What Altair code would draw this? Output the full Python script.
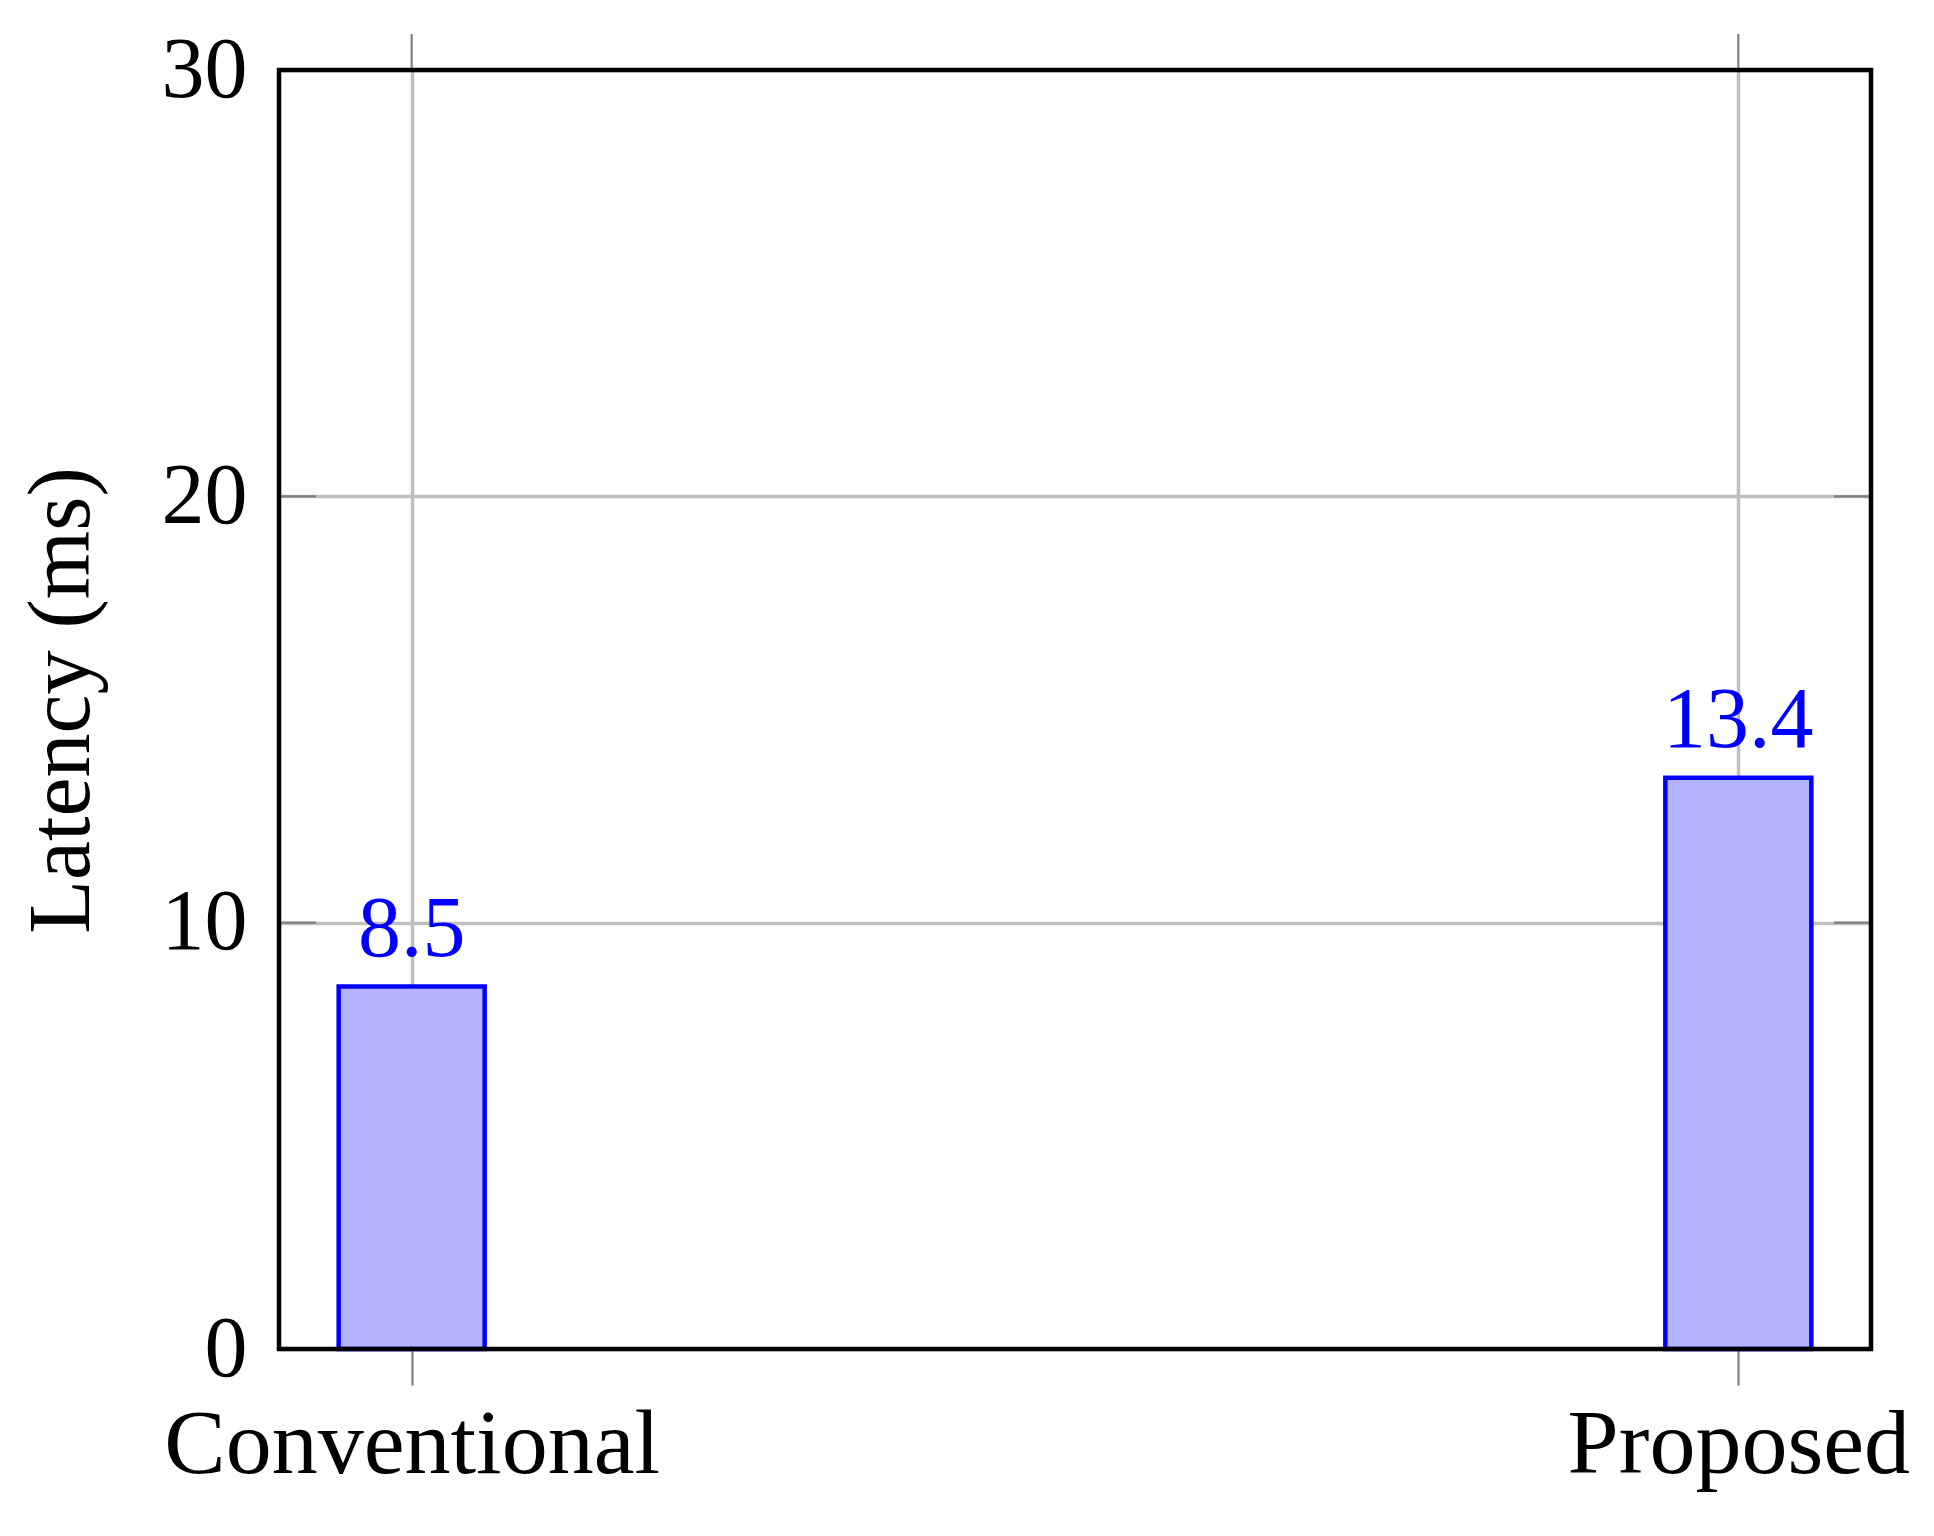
import altair as alt
import pandas as pd

categories = ["Conventional", "Proposed"]
latency = [8.5, 13.4]
label_text = ["8.5", "13.4"]
y_ticks = [0, 10, 20, 30]

FONT = "Liberation Serif"
W, H = 1592, 1279

bars_df = pd.DataFrame({"method": categories, "latency": latency, "label": label_text})
yt_df = pd.DataFrame({"v": y_ticks})
xt_df = pd.DataFrame({"method": categories})
frame_df = pd.DataFrame({"k": [0]})

x_enc = alt.X(
    "method:N",
    sort=categories,
    scale=alt.Scale(type="point", padding=0.1),
    axis=alt.Axis(
        title=None,
        labelFont=FONT,
        labelFontSize=92,
        labelColor="black",
        labelAngle=0,
        labelLimit=0,
        labelBaseline="alphabetic",
        labelPadding=87,
        tickSize=36,
        tickColor="#808080",
        tickWidth=2.2,
        grid=True,
        gridColor="#bfbfbf",
        gridWidth=3.5,
        domain=False,
    ),
)
y_enc = alt.Y(
    "latency:Q",
    scale=alt.Scale(domain=[0, 30], nice=False, zero=True),
    axis=alt.Axis(
        title="Latency (ms)",
        values=y_ticks,
        titleFont=FONT,
        titleFontSize=88,
        titleFontWeight="normal",
        titleColor="black",
        titleX=-191,
        titleY=630,
        titleBaseline="alphabetic",
        titleAlign="center",
        labelFont=FONT,
        labelFontSize=86,
        labelColor="black",
        labelPadding=32,
        ticks=False,
        grid=True,
        gridColor="#bfbfbf",
        gridWidth=3.3,
        domain=False,
    ),
)

bars = alt.Chart(bars_df).mark_bar(
    size=146, fill="#b3b3ff", stroke="#0000ff", strokeWidth=4.5
).encode(x=x_enc, y=y_enc)

labels = alt.Chart(bars_df).mark_text(
    font=FONT, fontSize=86, color="#0000ff", baseline="alphabetic", dy=-31
).encode(x=alt.X("method:N", sort=categories), y="latency:Q", text="label:N")

ytick_left = alt.Chart(yt_df).mark_rule(color="#808080", strokeWidth=2.3).encode(
    y="v:Q", x=alt.value(0), x2=alt.value(37)
)
ytick_right = alt.Chart(yt_df).mark_rule(color="#808080", strokeWidth=2.3).encode(
    y="v:Q", x=alt.value(W - 37), x2=alt.value(W)
)
xtick_top = alt.Chart(xt_df).mark_rule(color="#808080", strokeWidth=2.2).encode(
    x=alt.X("method:N", sort=categories), y=alt.value(-36), y2=alt.value(0)
)
frame = alt.Chart(frame_df).mark_rect(
    fill="transparent", stroke="black", strokeWidth=4.5
).encode(x=alt.value(0), x2=alt.value(W), y=alt.value(0), y2=alt.value(H))

chart = (
    alt.layer(bars, ytick_left, ytick_right, xtick_top, labels, frame)
    .properties(
        width=W,
        height=H,
        autosize=alt.AutoSizeParams(type="none"),
        padding={"left": 271, "top": 62, "right": 55, "bottom": 179},
        background="white",
    )
    .configure_view(stroke=None)
)

chart.save("out.html", embed_options={"renderer": "svg", "actions": False})
